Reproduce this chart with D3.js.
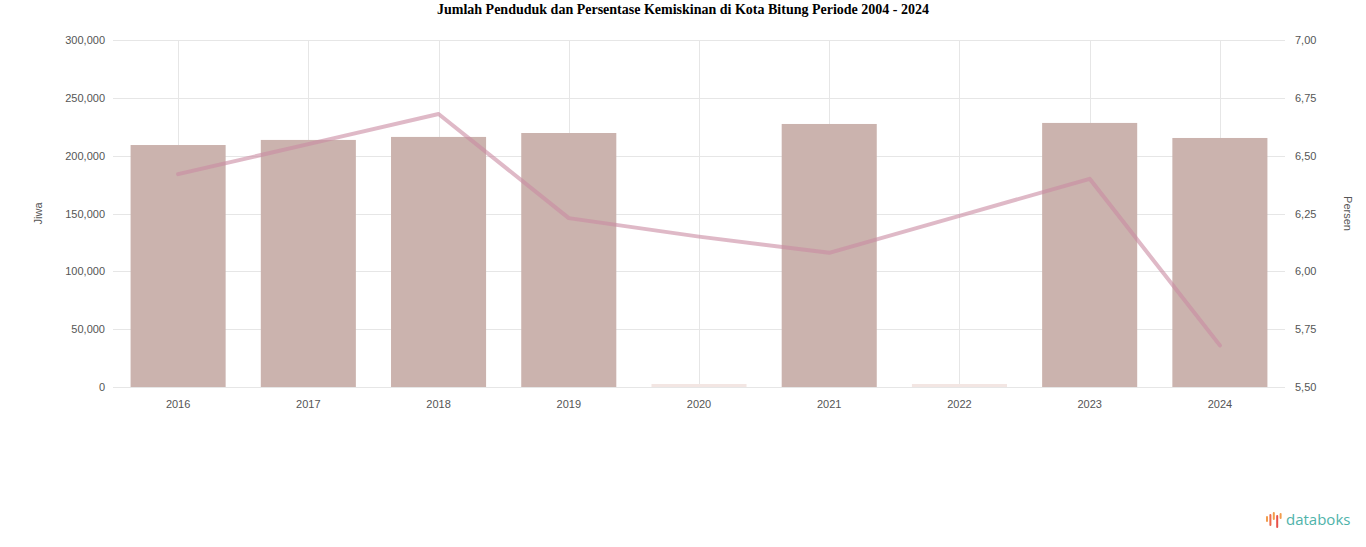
<!DOCTYPE html>
<html>
<head>
<meta charset="utf-8">
<script src="https://cdn.jsdelivr.net/npm/d3@7"></script>
<style>
  body { margin: 0; background: #fff; }
  svg { display: block; }
</style>
</head>
<body>
<div id="chart"></div>
<script>
const width = 1366
const height = 547

// data
const years = ['2016', '2017', '2018', '2019', '2020', '2021', '2022', '2023', '2024']
const penduduk = [209200, 213600, 216200, 219600, 0, 227400, 0, 228300, 215300]
const kemiskinan = [6.42, 6.55, 6.68, 6.23, 6.15, 6.08, 6.24, 6.40, 5.68]
const leftTicks = [0, 50000, 100000, 150000, 200000, 250000, 300000]
const rightTicks = [5.5, 5.75, 6, 6.25, 6.5, 6.75, 7]

const margin = { top: 40, right: 81, bottom: 160, left: 113 }

const svg = d3.create('svg')
	.attr('width', width)
	.attr('height', height)
	.attr('viewBox', [0, 0, width, height])

const x = d3.scaleBand()
	.domain(years)
	.range([margin.left, width - margin.right])
	.paddingInner(0.27)
	.paddingOuter(0.135)

const y = d3.scaleLinear()
	.domain([0, 300000])
	.range([height - margin.bottom, margin.top])

const y2 = d3.scaleLinear()
	.domain([5.5, 7])
	.range([height - margin.bottom, margin.top])

// title
svg.append('text')
	.attr('x', width / 2)
	.attr('y', 14)
	.attr('text-anchor', 'middle')
	.attr('font-family', '"Liberation Serif", "Times New Roman", serif')
	.attr('font-weight', 'bold')
	.attr('font-size', 14)
	.text('Jumlah Penduduk dan Persentase Kemiskinan di Kota Bitung Periode 2004 - 2024')

// grid
const grid = svg.append('g').attr('stroke', '#e6e6e6').attr('stroke-width', 1)
grid.selectAll('line.h')
	.data(leftTicks)
	.join('line')
	.attr('class', 'h')
	.attr('x1', margin.left)
	.attr('x2', width - margin.right)
	.attr('y1', (d) => Math.round(y(d)) + 0.5)
	.attr('y2', (d) => Math.round(y(d)) + 0.5)
grid.selectAll('line.v')
	.data(years)
	.join('line')
	.attr('class', 'v')
	.attr('x1', (d) => Math.round(x(d) + x.bandwidth() / 2) + 0.5)
	.attr('x2', (d) => Math.round(x(d) + x.bandwidth() / 2) + 0.5)
	.attr('y1', margin.top)
	.attr('y2', height - margin.bottom)

// bars
svg.append('g')
	.selectAll('rect')
	.data(years)
	.join('rect')
	.attr('x', (d) => x(d))
	.attr('width', x.bandwidth())
	.attr('y', (d, i) => Math.min(y(penduduk[i]), y(0) - 3))
	.attr('height', (d, i) => Math.max(y(0) - y(penduduk[i]), 3))
	.attr('fill', (d, i) => penduduk[i] > 0 ? '#cbb3ae' : '#f3e6e3')

// line
const line = d3.line()
	.x((d, i) => x(years[i]) + x.bandwidth() / 2)
	.y((d) => y2(d))

svg.append('path')
	.attr('d', line(kemiskinan))
	.attr('fill', 'none')
	.attr('stroke', '#c98aa2')
	.attr('stroke-opacity', 0.6)
	.attr('stroke-width', 4)
	.attr('stroke-linejoin', 'round')
	.attr('stroke-linecap', 'round')

// axes
const fmt = d3.format(',')
const labelFont = '"Liberation Sans", Arial, sans-serif'

const yAxis = svg.append('g')
	.attr('transform', `translate(${margin.left - 4},0)`)
	.call(d3.axisLeft(y).tickValues(leftTicks).tickFormat(fmt).tickSize(0).tickPadding(4))
yAxis.select('.domain').remove()

const y2Axis = svg.append('g')
	.attr('transform', `translate(${width - margin.right + 6},0)`)
	.call(d3.axisRight(y2).tickValues(rightTicks).tickFormat((d) => d3.format('.2f')(d).replace('.', ',')).tickSize(0).tickPadding(4))
y2Axis.select('.domain').remove()

const xAxis = svg.append('g')
	.attr('transform', `translate(0,${height - margin.bottom + 6})`)
	.call(d3.axisBottom(x).tickSize(0).tickPadding(7))
xAxis.select('.domain').remove()

svg.selectAll('.tick text')
	.attr('fill', '#555')
	.attr('font-size', 11)
	.attr('font-family', labelFont)

// axis titles
svg.append('text')
	.attr('transform', `translate(42,${(margin.top + height - margin.bottom) / 2}) rotate(-90)`)
	.attr('text-anchor', 'middle')
	.attr('fill', '#555')
	.attr('font-size', 11)
	.attr('font-family', labelFont)
	.text('Jiwa')

svg.append('text')
	.attr('transform', `translate(1344,${(margin.top + height - margin.bottom) / 2}) rotate(90)`)
	.attr('text-anchor', 'middle')
	.attr('fill', '#555')
	.attr('font-size', 11)
	.attr('font-family', labelFont)
	.text('Persen')

// databoks logo
const logo = svg.append('g').attr('transform', 'translate(1266,512)')
const logoBars = [
	{ h: 6, y: 4, c: '#f29c4b' },
	{ h: 12, y: 2, c: '#ee6b4d' },
	{ h: 8, y: 0, c: '#f29c4b' },
	{ h: 13, y: 3, c: '#e8514a' },
	{ h: 6, y: 1, c: '#f29c4b' },
]
logo.selectAll('rect')
	.data(logoBars)
	.join('rect')
	.attr('x', (d, i) => i * 3.4)
	.attr('y', (d) => d.y)
	.attr('width', 2)
	.attr('height', (d) => d.h)
	.attr('rx', 1)
	.attr('fill', (d) => d.c)
logo.append('text')
	.attr('x', 20)
	.attr('y', 13)
	.attr('fill', '#4fb3aa')
	.attr('font-size', 15)
	.attr('font-family', '"Open Sans", "Noto Sans", sans-serif')
	.text('databoks')

document.getElementById('chart').appendChild(svg.node())
</script>
</body>
</html>
